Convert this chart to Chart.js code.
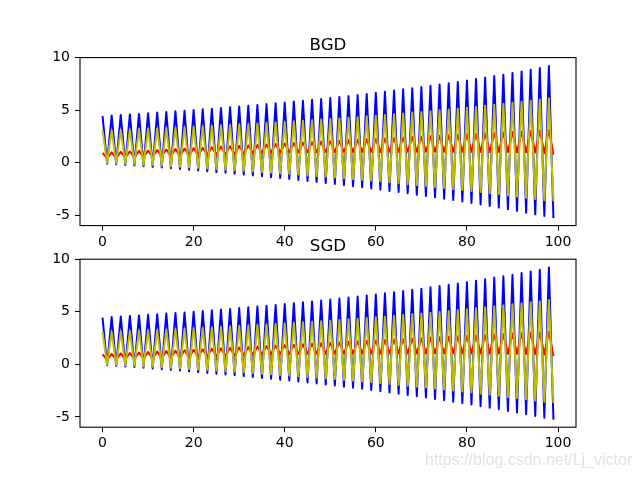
<!DOCTYPE html>
<html>
<head>
<meta charset="utf-8">
<script src="https://cdn.jsdelivr.net/npm/chart.js@4/dist/chart.umd.min.js"></script>
<style>
  body { margin: 0; background: #fff; }
  #wrap { position: relative; width: 640px; height: 480px; overflow: hidden; background: #fff; }
  .panel { position: absolute; left: 0; width: 640px; height: 250px; }
  #mark { position: absolute; left: 425px; top: 451px; font: 16px "Liberation Sans", sans-serif; color: #e2e2e2; white-space: nowrap; }
</style>
</head>
<body>
<div id="wrap">
  <div class="panel" style="top:0px"><canvas id="bgdChart"></canvas></div>
  <div class="panel" style="top:230px"><canvas id="sgdChart"></canvas></div>
  <div id="mark">https://blog.csdn.net/Lj_victor</div>
</div>
<script>
// values, x = 0..99 (both panels show the same curves)
var blueLine = [4.45, -0.08, 4.50, -0.14, 4.55, -0.20, 4.60, -0.25, 4.65, -0.32,
  4.71, -0.38, 4.77, -0.45, 4.83, -0.52, 4.89, -0.58, 4.94, -0.66,
  5.01, -0.73, 5.08, -0.81, 5.14, -0.88, 5.21, -0.95, 5.27, -1.03,
  5.35, -1.11, 5.43, -1.20, 5.50, -1.28, 5.58, -1.36, 5.65, -1.45,
  5.73, -1.53, 5.82, -1.63, 5.90, -1.72, 5.99, -1.81, 6.07, -1.91,
  6.16, -2.01, 6.26, -2.12, 6.35, -2.22, 6.45, -2.32, 6.55, -2.44,
  6.65, -2.55, 6.76, -2.67, 6.87, -2.78, 6.98, -2.90, 7.09, -3.03,
  7.20, -3.15, 7.33, -3.28, 7.45, -3.41, 7.57, -3.54, 7.69, -3.68,
  7.82, -3.81, 7.96, -3.97, 8.10, -4.11, 8.25, -4.26, 8.38, -4.42,
  8.53, -4.57, 8.69, -4.74, 8.84, -4.90, 9.00, -5.06, 9.20, -5.26];
var redLine = [0.95, 0.42, 0.99, 0.45, 1.04, 0.48, 1.08, 0.51, 1.13, 0.54,
  1.17, 0.57, 1.21, 0.60, 1.26, 0.63, 1.30, 0.66, 1.35, 0.69,
  1.39, 0.72, 1.43, 0.75, 1.48, 0.78, 1.52, 0.81, 1.57, 0.84,
  1.61, 0.87, 1.65, 0.90, 1.70, 0.93, 1.74, 0.96, 1.79, 0.98,
  1.83, 1.00, 1.87, 1.00, 1.92, 1.01, 1.96, 1.01, 2.01, 1.02,
  2.05, 1.02, 2.09, 1.03, 2.14, 1.03, 2.18, 1.04, 2.23, 1.04,
  2.27, 1.04, 2.31, 1.05, 2.36, 1.05, 2.40, 1.05, 2.45, 1.05,
  2.49, 1.05, 2.53, 1.05, 2.58, 1.05, 2.62, 1.05, 2.67, 1.05,
  2.71, 1.04, 2.75, 1.04, 2.80, 1.03, 2.84, 1.03, 2.89, 1.02,
  2.93, 1.01, 2.97, 1.00, 3.02, 0.98, 3.06, 0.94, 3.11, 0.78];
var yellowLine = [3.08, 0.00, 3.10, -0.04, 3.14, -0.09, 3.17, -0.13, 3.21, -0.18,
  3.24, -0.22, 3.27, -0.27, 3.32, -0.33, 3.35, -0.37, 3.39, -0.43,
  3.43, -0.48, 3.47, -0.53, 3.51, -0.59, 3.55, -0.64, 3.60, -0.70,
  3.64, -0.75, 3.69, -0.81, 3.74, -0.88, 3.79, -0.93, 3.84, -1.00,
  3.88, -1.05, 3.94, -1.12, 4.00, -1.19, 4.05, -1.26, 4.11, -1.33,
  4.16, -1.39, 4.22, -1.47, 4.29, -1.55, 4.34, -1.62, 4.42, -1.70,
  4.48, -1.78, 4.54, -1.86, 4.62, -1.95, 4.69, -2.03, 4.77, -2.12,
  4.84, -2.20, 4.91, -2.29, 5.00, -2.39, 5.07, -2.48, 5.16, -2.58,
  5.24, -2.67, 5.33, -2.78, 5.43, -2.89, 5.52, -2.99, 5.61, -3.10,
  5.71, -3.20, 5.81, -3.32, 5.91, -3.44, 6.01, -3.55, 6.13, -3.67];
var xTicks = [0, 20, 40, 60, 80, 100];
var yTicks = [-5, 0, 5, 10];

var tickFont = { family: 'DejaVu Sans', size: 14 };

// black box round the plot area plus the panel title over its centre
var framePlugin = {
  id: 'frame',
  afterDraw: function(chart, args, opts) {
    var a = chart.chartArea, c = chart.ctx;
    c.save();
    c.strokeStyle = '#000';
    c.lineWidth = 1.1;
    c.strokeRect(a.left, a.top, a.right - a.left, a.bottom - a.top);
    c.fillStyle = '#000';
    c.font = '16.7px "DejaVu Sans"';
    c.textAlign = 'center';
    c.textBaseline = 'alphabetic';
    c.fillText(opts.text, (a.left + a.right) / 2, a.top - 8);
    c.restore();
  }
};

function pts(arr) {
  return arr.map(function(v, i) { return { x: i, y: v }; });
}

function makeChart(id, title, padTop, xHeight) {
  var ctx = document.getElementById(id).getContext('2d');
  return new Chart(ctx, {
    type: 'line',
    data: {
      datasets: [
        { data: pts(blueLine), borderColor: '#0000ff', borderWidth: 2, order: 3 },
        { data: pts(redLine), borderColor: '#ff0000', borderWidth: 2, order: 2 },
        { data: pts(yellowLine), borderColor: '#bfbf00', borderWidth: 2, order: 1 }
      ]
    },
    options: {
      responsive: false,
      animation: false,
      events: [],
      elements: {
        point: { radius: 0 },
        line: { tension: 0, borderJoinStyle: 'round', borderCapStyle: 'butt' }
      },
      layout: { padding: { left: 0, right: 64, top: padTop, bottom: 0 } },
      plugins: {
        legend: { display: false },
        tooltip: { enabled: false },
        title: { display: false },
        frame: { text: title }
      },
      scales: {
        x: {
          type: 'linear',
          min: -4.95,
          max: 103.95,
          afterBuildTicks: function(s) { s.ticks = xTicks.map(function(v) { return { value: v }; }); },
          afterFit: function(s) { s.height = xHeight; },
          grid: { drawOnChartArea: false, color: '#000', tickLength: 5 },
          border: { display: false },
          ticks: { color: '#000', font: tickFont, padding: 3, maxRotation: 0 }
        },
        y: {
          type: 'linear',
          min: -5.97,
          max: 10.0,
          afterBuildTicks: function(s) { s.ticks = yTicks.map(function(v) { return { value: v }; }); },
          afterFit: function(s) { s.width = 80; },
          grid: { drawOnChartArea: false, color: '#000', tickLength: 5 },
          border: { display: false },
          ticks: { color: '#000', font: tickFont, padding: 5 }
        }
      }
    },
    plugins: [framePlugin]
  });
}

document.getElementById('bgdChart').width = 640;
document.getElementById('bgdChart').height = 250;
document.getElementById('sgdChart').width = 640;
document.getElementById('sgdChart').height = 250;

var bgdChart = makeChart('bgdChart', 'BGD', 57.6, 24.4);
var sgdChart = makeChart('sgdChart', 'SGD', 29.2, 52.8);
</script>
</body>
</html>
